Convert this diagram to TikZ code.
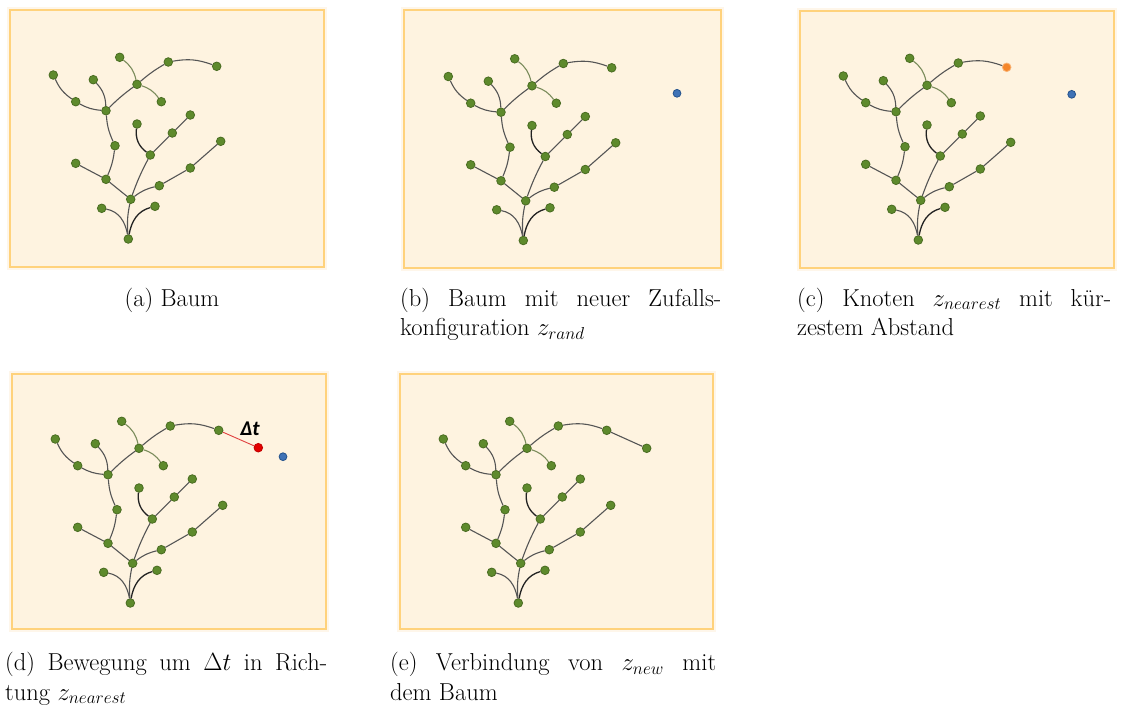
\documentclass[tikz,border=0pt]{standalone}
\usepackage{fontspec}
\newfontfamily\labelfont{Carlito}
\definecolor{paper}{HTML}{FEF3E0}
\definecolor{glowc}{HTML}{FEF6EA}
\definecolor{frameline}{HTML}{FFD27C}
\definecolor{leafgreen}{HTML}{5E8A2C}
\definecolor{leafedge}{HTML}{4A6C22}
\definecolor{randblue}{HTML}{3F72B6}
\definecolor{randedge}{HTML}{24528C}
\definecolor{nearorange}{HTML}{F5862A}
\definecolor{nearedge}{HTML}{F9B273}
\definecolor{newred}{HTML}{E30000}
\definecolor{branchgray}{HTML}{555555}
\definecolor{branchdark}{HTML}{222222}
\definecolor{branchgreen}{HTML}{7B8C5C}
\definecolor{steplinered}{HTML}{E04040}

\tikzset{
  x=1pt, y=1pt,
  glow/.style={fill=glowc},
  panel/.style={fill=paper, draw=frameline, line width=2pt},
  vtx/.style={circle, fill=leafgreen, draw=leafedge, line width=0.8pt,
    inner sep=0pt, minimum size=8.6pt},
  zrand/.style={circle, fill=randblue, draw=randedge, line width=0.8pt,
    inner sep=0pt, minimum size=7.8pt},
  znear/.style={vtx, fill=nearorange, draw=nearedge},
  znew/.style={vtx, fill=newred, draw=newred!85!black},
  branch/.style={draw=branchgray, line width=1.1pt},
  darkbranch/.style={draw=branchdark, line width=1.3pt},
  greenbranch/.style={draw=branchgreen, line width=1.1pt},
  stepline/.style={draw=steplinered, line width=0.9pt},
  caption/.style={anchor=base west, inner sep=0pt,
    font=\fontsize{24.5}{29.5}\selectfont},
  steplabel/.style={inner sep=0pt, font=\labelfont\bfseries\itshape\fontsize{21}{23}\selectfont},
}

% frame of one panel, top-left corner at the scope origin
\newcommand\panelframe[2]{%
  \path[glow] (-3,3) rectangle (#1+3,-#2-3);
  \path[panel] (0,0) rectangle (#1,-#2);
}

% the search tree; #1 = name prefix, #2 = style of the leaf F
\newcommand\rrtree[2]{%
  \node[vtx] (#1R)   at (118.3,-229)   {};
  \node[vtx] (#1L1)  at (91.7,-198.3)  {};
  \node[vtx] (#1L2)  at (145,-196.3)   {};
  \node[vtx] (#1H)   at (120.7,-189.3) {};
  \node[vtx] (#1A)   at (96,-169.3)    {};
  \node[vtx] (#1A1)  at (65.7,-153.3)  {};
  \node[vtx] (#1B)   at (105,-135.7)   {};
  \node[vtx] (#1C)   at (96,-100.7)    {};
  \node[vtx] (#1C1)  at (65.7,-91.7)   {};
  \node[vtx] (#1C1a) at (43.3,-65)     {};
  \node[vtx] (#1C2)  at (83.3,-69.7)   {};
  \node[vtx] (#1D)   at (127,-74.3)    {};
  \node[vtx] (#1D1)  at (109.7,-47.3)  {};
  \node[vtx] (#1D2)  at (151.3,-91.7)  {};
  \node[vtx] (#1E)   at (158.3,-52)    {};
  \node[#2]  (#1F)   at (206.7,-56.3)  {};
  \node[vtx] (#1G)   at (140.3,-145)   {};
  \node[vtx] (#1G1)  at (127,-114)     {};
  \node[vtx] (#1G2)  at (162.3,-123)   {};
  \node[vtx] (#1G3)  at (180.3,-105)   {};
  \node[vtx] (#1K)   at (149.3,-175.7) {};
  \node[vtx] (#1K1)  at (180.3,-158)   {};
  \node[vtx] (#1K2)  at (210.7,-131.3) {};
  \draw[branch]      (#1R) to[out=100,in=-10] (#1L1);
  \draw[darkbranch]  (#1R) to[out=80,in=195] (#1L2);
  \draw[branch]      (#1R) to[bend left=8] (#1H);
  \draw[branch]      (#1H) -- (#1A);
  \draw[branch]      (#1A) -- (#1A1);
  \draw[branch]      (#1A) to[bend right=8] (#1B);
  \draw[branch]      (#1B) to[bend left=10] (#1C);
  \draw[branch]      (#1C) to[bend left=12] (#1C1);
  \draw[branch]      (#1C1) to[bend left=15] (#1C1a);
  \draw[branch]      (#1C) to[bend right=20] (#1C2);
  \draw[branch]      (#1C) to[bend left=4] (#1D);
  \draw[greenbranch] (#1D) to[bend right=20] (#1D1);
  \draw[greenbranch] (#1D) to[bend left=18] (#1D2);
  \draw[branch]      (#1D) to[bend left=5] (#1E);
  \draw[branch]      (#1E) to[bend left=15] (#1F);
  \draw[branch]      (#1H) to[bend left=4] (#1G);
  \draw[darkbranch]  (#1G) to[bend left=30] (#1G1);
  \draw[branch]      (#1G) -- (#1G2);
  \draw[branch]      (#1G2) -- (#1G3);
  \draw[branch]      (#1H) to[bend left=12] (#1K);
  \draw[branch]      (#1K) -- (#1K1);
  \draw[branch]      (#1K1) -- (#1K2);
}

\begin{document}
\begin{tikzpicture}
\useasboundingbox[fill=white] (0,0) rectangle (1123,-707);

% (a) tree
\begin{scope}[shift={(10,-10)}]
  \panelframe{314}{257}
  \rrtree{a}{vtx}
\end{scope}

% (b) tree and random configuration
\begin{scope}[shift={(404,-10)}]
  \panelframe{317}{258}
  \begin{scope}[shift={(1,-1.5)}]
    \rrtree{b}{vtx}
  \end{scope}
  \node[zrand] (brand) at (273,-83.3) {};
\end{scope}

% (c) nearest node
\begin{scope}[shift={(800,-11)}]
  \panelframe{314}{257}
  \rrtree{c}{znear}
  \node[zrand] (crand) at (271.7,-83.3) {};
\end{scope}

% (d) step of length Delta t
\begin{scope}[shift={(12,-374)}]
  \panelframe{314}{255}
  \rrtree{d}{vtx}
  \node[zrand] (drand) at (271,-82.7) {};
  \node[znew] (dnew) at (246.3,-73.7) {};
  \draw[stepline] (dF) -- (dnew);
  \node[steplabel] (dstep) at (238,-54.3) {Δt};
\end{scope}

% (e) new node joined to the tree
\begin{scope}[shift={(400,-374)}]
  \panelframe{313}{255}
  \rrtree{e}{vtx}
  \node[vtx] (enew) at (246.7,-74.3) {};
  \draw[branch] (eF) -- (enew);
\end{scope}

% captions
\node[caption, anchor=base] (capa) at (172,-306) {(a) Baum};
\node[caption] (capb1) at (400,-306)   {\makebox[321pt][s]{(b) Baum mit neuer Zufalls-}};
\node[caption] (capb2) at (400,-335.5) {konfiguration $z_{rand}$};
\node[caption] (capc1) at (797,-306)   {\makebox[314pt][s]{(c) Knoten $z_{nearest}$ mit kür-}};
\node[caption] (capc2) at (797,-335.5) {zestem Abstand};
\node[caption] (capd1) at (5,-670.5)   {\makebox[322pt][s]{(d) Bewegung um $\Delta t$ in Rich-}};
\node[caption] (capd2) at (5,-700)     {tung $z_{nearest}$};
\node[caption] (cape1) at (390,-670.5) {\makebox[326pt][s]{(e) Verbindung von $z_{new}$ mit}};
\node[caption] (cape2) at (390,-700)   {dem Baum};
\end{tikzpicture}
\end{document}
